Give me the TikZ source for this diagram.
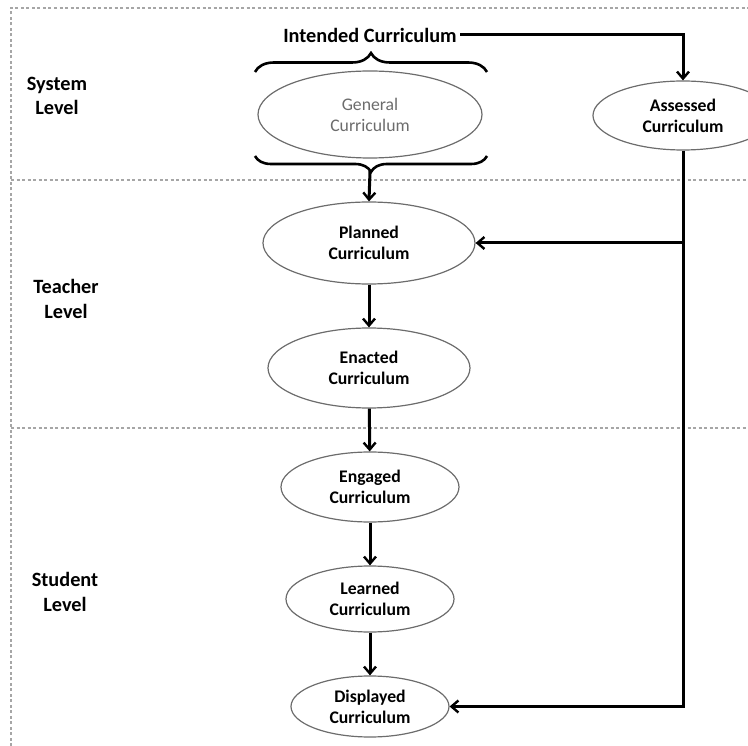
\documentclass[tikz,border=0pt]{standalone}
\usepackage{fontspec}
\setmainfont{Carlito}
\usetikzlibrary{shapes.geometric,arrows.meta,decorations.pathreplacing}
\tikzset{
  curr/.style={ellipse,draw=gray!85!black,line width=1.2pt,inner sep=0pt,align=center,
    font=\fontsize{17.7}{21}\selectfont\bfseries},
  lvl/.style={align=center,font=\fontsize{20.3}{24.5}\selectfont\bfseries},
  arr/.style={line width=3pt,-{Straight Barb[length=7pt,width=12pt,line width=2.4pt]}},
  bracepath/.style={line width=2.6pt,decorate,decoration={brace,amplitude=#1}},
  levelline/.style={gray!70,line width=1.4pt,dash pattern=on 3pt off 2.5pt}
}
\begin{document}
\begin{tikzpicture}[x=1pt,y=-1pt]
            \useasboundingbox (0,0) rectangle (748,746);
            % level frame
            \draw[levelline] (11,746) -- (11,8) -- (760,8);
            \draw[levelline] (11,180) -- (760,180);
            \draw[levelline] (11,428) -- (760,428);
            \node[lvl] (system) at (57,96) {System\\Level};
            \node[lvl] (teacher) at (66,299) {Teacher\\Level};
            \node[lvl] (student) at (65,592) {Student\\Level};
            % system level
            \node[lvl] (intended) at (370,35) {Intended Curriculum};
            \node[curr,minimum width=224pt,minimum height=87pt,font=\fontsize{17.7}{21}\selectfont,
              text=gray!85!black] (general) at (370,114.5) {General\\Curriculum};
            \node[curr,minimum width=180pt,minimum height=69pt] (assessed) at (683,115.5) {Assessed\\Curriculum};
            \draw[bracepath=19pt] (255,72) -- (487,72);
            \draw[bracepath=16pt] (487,156) -- (255,156);
            \coordinate (gentip) at (370,171);
            % teacher level
            \node[curr,minimum width=212pt,minimum height=82pt] (planned) at (369,243) {Planned\\Curriculum};
            \node[curr,minimum width=202pt,minimum height=80pt] (enacted) at (369,368) {Enacted\\Curriculum};
            % student level
            \node[curr,minimum width=178pt,minimum height=70pt] (engaged) at (370,487) {Engaged\\Curriculum};
            \node[curr,minimum width=168pt,minimum height=66pt] (learned) at (370,599) {Learned\\Curriculum};
            \node[curr,minimum width=158pt,minimum height=61pt] (displayed) at (370,706.5) {Displayed\\Curriculum};
            % connectors
            \draw[arr] (intended.east) -| (assessed.north);
            \draw[arr] (assessed.south) |- (displayed.east);
            \draw[arr] (assessed.south |- planned.east) -- (planned.east);
            \draw[arr] (gentip) -- (planned.north);
            \draw[arr] (planned) -- (enacted);
            \draw[arr] (enacted) -- (engaged);
            \draw[arr] (engaged) -- (learned);
            \draw[arr] (learned) -- (displayed);
        \end{tikzpicture}
\end{document}
